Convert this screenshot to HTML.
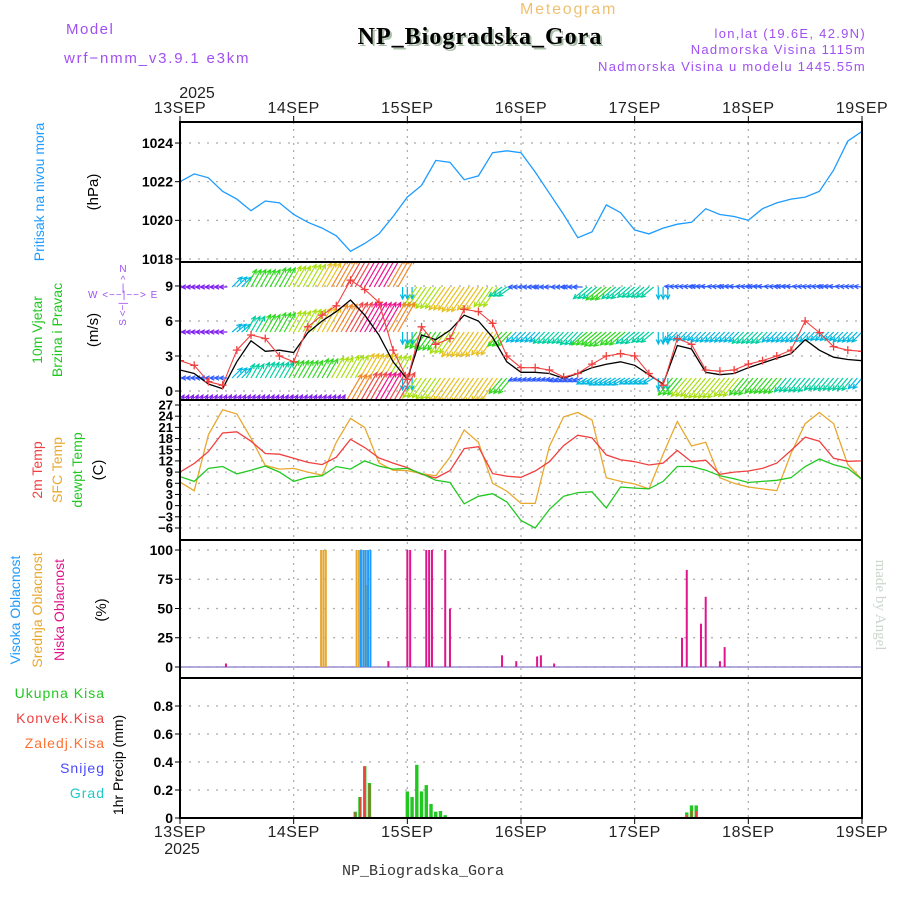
<!DOCTYPE html>
<html><head><meta charset="utf-8"><title>Meteogram NP_Biogradska_Gora</title>
<style>
html,body{margin:0;padding:0;background:#fff;}
svg{display:block;font-family:"Liberation Sans",sans-serif;}
</style></head>
<body>
<svg id="chart" width="900" height="900" viewBox="0 0 900 900" xmlns="http://www.w3.org/2000/svg">
<rect width="900" height="900" fill="#fff"/>
<text x="66" y="34" font-size="15" fill="#a050f0" letter-spacing="1.5">Model</text>
<text x="64" y="63" font-size="15" fill="#a050f0" letter-spacing="1.8">wrf−nmm_v3.9.1  e3km</text>
<text x="520" y="14" font-size="16" fill="#f0c070" letter-spacing="1.8">Meteogram</text>
<text x="482" y="46" text-anchor="middle" font-family="Liberation Serif,serif" font-weight="bold" font-size="24" fill="#aac0aa" letter-spacing="1">NP_Biogradska_Gora</text>
<text x="480" y="44" text-anchor="middle" font-family="Liberation Serif,serif" font-weight="bold" font-size="24" fill="#000" letter-spacing="1">NP_Biogradska_Gora</text>
<text x="866" y="38" text-anchor="end" font-size="13" fill="#a050f0" letter-spacing="1.3">lon,lat (19.6E, 42.9N)</text>
<text x="866" y="54" text-anchor="end" font-size="13" fill="#a050f0" letter-spacing="1.3">Nadmorska Visina 1115m</text>
<text x="866" y="71" text-anchor="end" font-size="13" fill="#a050f0" letter-spacing="1.3">Nadmorska Visina u modelu 1445.55m</text>
<text x="423" y="875" text-anchor="middle" font-family="Liberation Mono,monospace" font-size="15" fill="#333">NP_Biogradska_Gora</text>
<text transform="translate(876,605) rotate(90)" text-anchor="middle" font-family="Liberation Serif,serif" font-size="15" fill="#ccd6cc">made by Angel</text>

<g>
<text transform="translate(44,192) rotate(-90)" text-anchor="middle" font-size="14" fill="#1e9bff">Pritisak na nivou mora</text>
<text transform="translate(98,192) rotate(-90)" text-anchor="middle" font-size="15" fill="#000">(hPa)</text>
</g>
<g>
<text transform="translate(42,330) rotate(-90)" text-anchor="middle" font-size="14" fill="#22c822">10m Vjetar</text>
<text transform="translate(62,330) rotate(-90)" text-anchor="middle" font-size="14" fill="#22c822">Brzina i Pravac</text>
<text transform="translate(98,330) rotate(-90)" text-anchor="middle" font-size="15" fill="#000">(m/s)</text>
<text x="123" y="272" text-anchor="middle" font-size="10" fill="#a050f0">N</text>
<text x="123" y="283" text-anchor="middle" font-size="10" fill="#a050f0">^</text>
<text x="123" y="291" text-anchor="middle" font-size="10" fill="#a050f0">|</text>
<text x="88" y="298" font-size="10" fill="#a050f0" letter-spacing="1">W  &lt;−−|−−&gt;  E</text>
<text transform="translate(126,302) rotate(-90)" text-anchor="end" font-size="10" fill="#a050f0">S &lt;−|</text>
</g>
<g>
<text transform="translate(42,470) rotate(-90)" text-anchor="middle" font-size="14" fill="#f04040">2m Temp</text>
<text transform="translate(62,470) rotate(-90)" text-anchor="middle" font-size="14" fill="#e8a830">SFC Temp</text>
<text transform="translate(82,470) rotate(-90)" text-anchor="middle" font-size="14" fill="#22c822">dewpt Temp</text>
<text transform="translate(103,470) rotate(-90)" text-anchor="middle" font-size="15" fill="#000">(C)</text>
</g>
<g>
<text transform="translate(20,610) rotate(-90)" text-anchor="middle" font-size="14" fill="#1e9bff">Visoka Oblacnost</text>
<text transform="translate(42,610) rotate(-90)" text-anchor="middle" font-size="14" fill="#e8a830">Srednja Oblacnost</text>
<text transform="translate(64,610) rotate(-90)" text-anchor="middle" font-size="14" fill="#e0148c">Niska Oblacnost</text>
<text transform="translate(106,610) rotate(-90)" text-anchor="middle" font-size="15" fill="#000">(%)</text>
</g>
<g font-size="14" text-anchor="end" letter-spacing="1">
<text x="105" y="698" fill="#22c822">Ukupna Kisa</text>
<text x="105" y="723" fill="#f04040">Konvek.Kisa</text>
<text x="105" y="748" fill="#ff7030">Zaledj.Kisa</text>
<text x="105" y="773" fill="#4848ff">Snijeg</text>
<text x="105" y="798" fill="#20c8c8">Grad</text>
<text transform="translate(123,765) rotate(-90)" text-anchor="middle" fill="#000" letter-spacing="0">1hr Precip (mm)</text>
</g>
<g id="plot"></g>
</svg>
<script>
// ---------- data (3-hourly, hours 0..144 from 13SEP 00) ----------
const dayLabels = ["13SEP","14SEP","15SEP","16SEP","17SEP","18SEP","19SEP"];
const yearLabel = "2025";
const pressure = [1022.0,1022.4,1022.2,1021.5,1021.1,1020.5,1021.0,1020.9,1020.3,1019.9,1019.6,1019.2,1018.4,1018.8,1019.3,1020.2,1021.2,1021.8,1023.1,1023.0,1022.1,1022.3,1023.5,1023.6,1023.5,1022.5,1021.4,1020.3,1019.1,1019.4,1020.8,1020.4,1019.5,1019.3,1019.6,1019.8,1019.9,1020.6,1020.3,1020.2,1020.0,1020.6,1020.9,1021.1,1021.2,1021.5,1022.6,1024.1,1024.6];
const pressureTicks = [1018,1020,1022,1024];
const windSpeed = [1.8,1.5,0.6,0.2,2.5,4.3,3.4,3.5,3.3,5.0,6.0,6.8,7.8,6.5,4.8,2.5,1.0,4.8,4.4,5.2,6.5,6.0,4.6,2.5,1.6,1.6,1.5,1.1,1.5,2.0,2.3,2.5,2.2,1.4,0.6,3.9,3.6,1.6,1.4,1.5,2.0,2.4,2.8,3.2,4.4,3.5,2.9,2.7,2.6];
const windGust = [2.6,2.2,0.8,0.5,3.5,4.8,4.5,3.0,2.5,5.5,6.5,7.3,9.5,8.7,7.6,3.5,1.0,5.5,4.0,4.5,7.0,6.8,5.8,3.0,2.0,2.0,1.8,1.2,1.5,2.3,3.0,3.2,3.0,1.5,0.5,4.5,4.0,1.8,1.7,1.8,2.3,2.6,3.0,3.5,6.0,5.0,3.8,3.5,3.4];
const windTicks = [0,3,6,9];
const l1Dir = [180,180,180,180,45,60,60,60,60,60,60,60,60,60,60,60,270,235,235,235,235,235,235,215,180,180,180,180,180,220,220,220,220,220,270,175,175,175,175,175,175,175,175,175,175,175,175,175,175];
const l1Spd = [3,3,3,3,7,10,10,11,12,13,14,16,18,19,19,16,6,12,13,14,15,14,12,8,4,4,5,4,5,9,10,9,8,8,6,4,4,5,4,5,4,5,4,5,4,4,5,4,4];
const l2Dir = [180,180,180,180,40,60,60,60,60,60,60,60,60,60,60,60,270,235,235,235,235,235,235,225,225,225,225,225,225,220,220,220,220,220,270,225,225,225,225,225,225,225,225,225,225,225,225,225,225];
const l2Spd = [3,3,3,3,6,9,10,11,12,13,14,16,18,20,19,17,6,10,11,13,15,15,14,10,7,7,8,8,9,10,11,10,9,8,6,6,6,7,7,7,8,8,7,7,7,6,6,7,7];
const l3Dir = [180,180,180,180,45,60,60,60,60,60,60,60,60,60,60,60,270,235,235,235,235,235,235,230,200,200,200,200,200,210,210,210,210,210,270,230,230,230,230,230,230,230,230,230,230,230,230,230,230];
const l3Spd = [4,4,4,4,7,8,9,9,10,10,11,12,13,14,14,13,6,12,13,14,15,15,14,10,4,4,4,5,5,6,7,7,6,6,6,11,12,13,13,12,11,10,10,9,9,8,8,8,7];
const l4Dir = [60,60,60,60,60,60,60,60,60,60,60,60,60,60,60,60,270,235,235,235,235,235,235,230,230,230,230,230,230,230,230,230,230,230,270,235,235,235,235,235,235,235,235,235,235,235,235,235,235];
const l4Spd = [2,2,2,2,2,2,2,2,2,2,2,2,16,18,19,18,6,13,14,14,14,13,12,8,8,8,8,8,8,8,8,8,8,8,6,14,15,15,14,13,12,12,11,11,10,10,10,10,10];
const temp2m = [9.0,11.3,14.5,19.5,19.8,17.3,14.0,13.8,12.7,11.6,11.0,13.0,17.8,15.6,12.8,11.4,10.2,8.4,7.4,9.4,15.3,15.8,8.6,7.9,7.6,9.3,11.8,16.1,18.9,18.2,13.6,12.3,11.8,10.9,11.4,14.8,11.8,12.2,8.4,9.0,9.3,10.0,11.4,14.8,18.4,17.3,12.7,11.9,12.0];
const tempSfc = [6.3,4.0,19.0,25.7,24.6,18.1,10.8,9.8,10.0,9.0,8.2,17.0,23.4,21.0,11.5,9.5,9.4,8.6,8.0,13.0,20.3,17.0,6.0,3.9,0.6,0.6,15.9,23.8,25.0,23.0,7.5,6.5,5.8,4.5,13.8,22.6,16.0,17.0,7.5,6.0,5.0,4.5,4.0,14.0,22.0,25.0,22.0,11.0,7.0];
const tempDew = [7.8,6.5,10.0,10.5,8.5,9.5,10.6,9.0,6.5,7.6,8.0,10.5,9.8,12.0,10.6,9.8,10.0,8.6,6.8,6.2,0.5,2.5,3.2,1.0,-4.0,-6.0,-1.0,2.5,3.5,3.7,-0.6,5.0,4.7,4.5,6.5,10.5,10.5,9.5,8.0,7.2,6.2,6.5,6.8,7.5,10.5,12.5,11.0,10.0,7.0];
const tempTicks = [27,24,21,18,15,12,9,6,3,0,-3,-6];
const cloudHighHours = [38,38.5,39,39.5,40];
const cloudHighPct = [100,100,100,100,100];
const cloudMidHours = [30,30.5,31,37.5,38,39,39.8];
const cloudMidPct = [100,100,100,100,100,100,70];
const cloudLowHours = [9.7,44,48,48.6,52,52.6,53.2,56,57,68,71,75.4,76.2,79,106,107,110,111,114,115];
const cloudLowPct = [3,5,100,100,100,100,100,100,50,10,5,9,10,3,25,83,37,60,5,17];
const cloudTicks = [0,25,50,75,100];
const precipHours = [37,38,39,40,48,49,50,51,52,53,54,55,56,107,108,109];
const precipTotal = [0.045,0.15,0.37,0.25,0.19,0.15,0.38,0.19,0.235,0.10,0.045,0.05,0.02,0.04,0.09,0.09];
const precipConv = [0.04,0.15,0.37,0.24,0,0,0,0,0,0,0,0,0,0.02,0.05,0.05];
const precipTicks = [0,0.2,0.4,0.6,0.8];

// ---------- helpers ----------
const NS = "http://www.w3.org/2000/svg";
const plot = document.getElementById("plot");
const X0 = 180, X1 = 862, HOURS = 144;
const X = h => X0 + h * (X1 - X0) / HOURS;
const hourOf = i => i * 3;
function mk(tag, attrs, parent) {
  const e = document.createElementNS(NS, tag);
  for (const k in attrs) e.setAttribute(k, attrs[k]);
  (parent || plot).appendChild(e);
  return e;
}
const panels = [
  {top:122, bot:262}, {top:262, bot:400}, {top:400, bot:540}, {top:540, bot:678}, {top:678, bot:818}
];
const yP = v => 259 - (v - 1018) * 19.33;
const yW = v => 391 - v * 11.67;
const yT = v => 405 + (27 - v) * 3.727;
const yC = v => 667 - v * 1.17;
const yR = v => 818 - v * 140;

const defs = mk("defs", {});
panels.forEach((p, i) => {
  const cp = mk("clipPath", {id: "clip" + i}, defs);
  mk("rect", {x: X0, y: p.top, width: X1 - X0, height: p.bot - p.top}, cp);
});

function hgrid(ticks, yf, fmt, name, fs) {
  ticks.forEach(t => {
    const y = yf(t);
    const g = mk("line", {x1: X0, x2: X1, y1: y, y2: y, stroke: "#aaa", "stroke-dasharray": "2,7", "stroke-width": 1.2});
    
    
    const tk = mk("line", {x1: X0 - 5, x2: X0, y1: y, y2: y, stroke: "#000"});
    
    
    const tx = mk("text", {x: X0 - 7, y: y + fs * 0.35, "text-anchor": "end", "font-size": fs, fill: "#000", "font-weight": "bold"});
    tx.textContent = fmt(t);
    
    
  });
}
hgrid(pressureTicks, yP, t => String(t), "pressure-axis", 14);
hgrid(windTicks, yW, t => String(t), "wind-axis", 14);
hgrid(tempTicks, yT, t => t < 0 ? "−" + (-t) : String(t), "temp-axis", 13);
hgrid(cloudTicks, yC, t => String(t), "cloud-axis", 14);
hgrid(precipTicks, yR, t => t === 0 ? "0" : t.toFixed(1), "precip-axis", 14);

dayLabels.forEach((d, i) => {
  const x = X(i * 24);
  const v = mk("line", {x1: x, x2: x, y1: 122, y2: 818, stroke: "#aaa", "stroke-dasharray": "2,5", "stroke-width": 1.2});
  
  
  const t1 = mk("line", {x1: x, x2: x, y1: 116, y2: 122, stroke: "#000"});
  
  
  const t2 = mk("line", {x1: x, x2: x, y1: 818, y2: 824, stroke: "#000"});
  
  
  const a = mk("text", {x: x, y: 113, "text-anchor": "middle", "font-size": 16, fill: "#222", "letter-spacing": "0.5"});
  a.textContent = d;
  
  
  const b = mk("text", {x: x, y: 837, "text-anchor": "middle", "font-size": 16, fill: "#222", "letter-spacing": "0.5"});
  b.textContent = d;
  
  
});
const yr1 = mk("text", {x: 197, y: 98, "text-anchor": "middle", "font-size": 16, fill: "#222"});
yr1.textContent = yearLabel;


const yr2 = mk("text", {x: 182, y: 854, "text-anchor": "middle", "font-size": 16, fill: "#222"});
yr2.textContent = yearLabel;



function series(arr, yf, color, clip, name, w) {
  const pts = arr.map((v, i) => X(hourOf(i)).toFixed(1) + "," + yf(v).toFixed(1)).join(" ");
  const p = mk("polyline", {points: pts, fill: "none", stroke: color, "stroke-width": w || 1.3, "clip-path": "url(#clip" + clip + ")"});
  
  
  return p;
}

series(pressure, yP, "#1e9bff", 0, "pressure-line");

function spdColor(s) {
  if (s < 3.5) return "#8020f0";
  if (s < 5.5) return "#2f5cff";
  if (s < 7.5) return "#00b8e0";
  if (s < 9.5) return "#00d0a0";
  if (s < 11.5) return "#30d820";
  if (s < 13.5) return "#a8e010";
  if (s < 15.5) return "#e8c020";
  if (s < 17.5) return "#f08828";
  if (s < 19) return "#f04848";
  return "#f01490";
}
const levels = [[l1Dir, l1Spd, 287, "wind-arrow-level1"], [l2Dir, l2Spd, 332, "wind-arrow-level2"], [l3Dir, l3Spd, 378, "wind-arrow-level3"], [l4Dir, l4Spd, 402, "wind-arrow-level4"]];
const windG = mk("g", {"clip-path": "url(#clip1)"});


levels.forEach(([dir, spd, by, nm]) => {
  dir.forEach((d, i) => {
    for (let k = -1; k <= 1; k++) {
      const h = hourOf(i) + k;
      if (h < 0 || h > HOURS) continue;
      const L = Math.max(8, Math.min(34, spd[i] * 2.0));
      const a = d * Math.PI / 180;
      const x1 = X(h), y1 = by;
      const x2 = x1 + Math.cos(a) * L, y2 = y1 - Math.sin(a) * L;
      const c = spdColor(spd[i]);
      const hl = 5, ha = 0.45;
      const hx1 = x2 - hl * Math.cos(a - ha), hy1 = y2 + hl * Math.sin(a - ha);
      const hx2 = x2 - hl * Math.cos(a + ha), hy2 = y2 + hl * Math.sin(a + ha);
      const p = mk("path", {d: `M${x1.toFixed(1)},${y1.toFixed(1)}L${x2.toFixed(1)},${y2.toFixed(1)}M${hx1.toFixed(1)},${hy1.toFixed(1)}L${x2.toFixed(1)},${y2.toFixed(1)}L${hx2.toFixed(1)},${hy2.toFixed(1)}`, stroke: c, "stroke-width": 1.2, fill: "none"}, windG);
      
      
    }
  });
});
series(windSpeed, yW, "#000", 1, "wind-speed-line");
series(windGust, yW, "#f04040", 1, "wind-gust-line", 1.1);
windGust.forEach((v, i) => {
  const x = X(hourOf(i)), y = yW(v);
  const m = mk("path", {d: `M${x - 4},${y}h8M${x},${y - 4}v8`, stroke: "#f04040", "stroke-width": 1.3, "clip-path": "url(#clip1)"});
  
  
});

series(tempSfc, yT, "#e8a830", 2, "sfc-temp-line");
series(temp2m, yT, "#f04040", 2, "2m-temp-line");
series(tempDew, yT, "#22c822", 2, "dewpoint-line");

const base = mk("line", {x1: X0, x2: X1, y1: yC(0), y2: yC(0), stroke: "#8878c8", "stroke-width": 1.2});


function cloudBars(hrs, pct, color, off, name) {
  hrs.forEach((h, i) => {
    const x = X(h) + off;
    const r = mk("rect", {x: x - 1, y: yC(pct[i]), width: 2, height: yC(0) - yC(pct[i]), fill: color});
    
    
  });
}
cloudBars(cloudLowHours, cloudLowPct, "#e0148c", 0, "low-cloud-bar");
cloudBars(cloudMidHours, cloudMidPct, "#e8a830", -1, "mid-cloud-bar");
cloudBars(cloudHighHours, cloudHighPct, "#1e9bff", 1, "high-cloud-bar");

precipHours.forEach((h, i) => {
  const x = X(h);
  const g = mk("rect", {x: x - 1.7, y: yR(precipTotal[i]), width: 3.4, height: yR(0) - yR(precipTotal[i]), fill: "#22c822"});
  
  
  if (precipConv[i] > 0) {
    const c = mk("rect", {x: x - 0.9, y: yR(precipConv[i]), width: 1.8, height: yR(0) - yR(precipConv[i]), fill: "#f04040"});
    
    
  }
});

panels.forEach((p, i) => {
  const r = mk("rect", {x: X0, y: p.top, width: X1 - X0, height: p.bot - p.top, fill: "none", stroke: "#000", "stroke-width": 2});
  
  
});
</script>
</body></html>
